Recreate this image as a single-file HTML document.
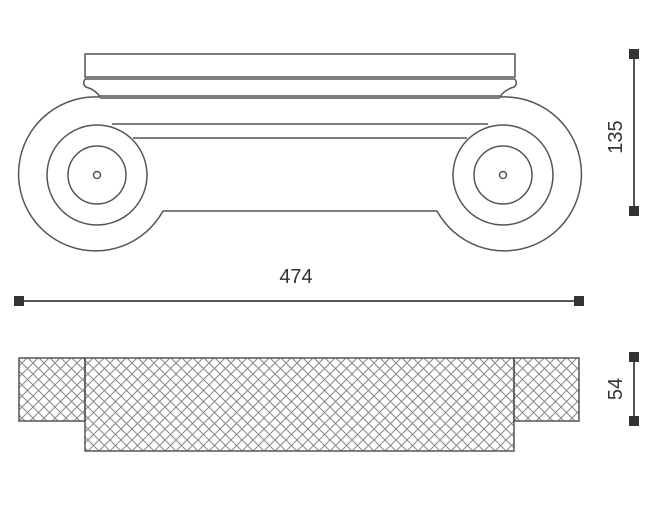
<!DOCTYPE html>
<html><head><meta charset="utf-8"><style>
html,body{margin:0;padding:0;background:#fff;}
svg{display:block;}
text{font-family:"Liberation Sans",sans-serif;fill:#333;font-size:20px;}
</style></head><body>
<svg width="664" height="530" viewBox="0 0 664 530" xmlns="http://www.w3.org/2000/svg">
<defs>
<pattern id="h" width="11" height="11" patternUnits="userSpaceOnUse">
<path d="M0 0L11 11M11 0L0 11" stroke="#888" stroke-width="1"/>
</pattern>
</defs>
<g fill="none" stroke="#555" stroke-width="1.5">
<!-- top slab -->
<rect x="85" y="54" width="430" height="23"/>
<line x1="85" y1="79" x2="515" y2="79"/>
<line x1="100" y1="96" x2="500" y2="96"/>
<line x1="100" y1="98" x2="500" y2="98"/>
<path d="M85 79 Q82 84 86 87 Q96 90 100 97"/>
<path d="M515 79 Q518 84 514 87 Q504 90 500 97"/>
<!-- outer scrolls -->
<path d="M100 97 A77 77 0 1 0 163 211 L437 211 A77 77 0 1 0 500 97"/>
<!-- echinus lines -->
<line x1="112" y1="124" x2="488" y2="124"/>
<line x1="133" y1="138" x2="467" y2="138"/>
<!-- volutes -->
<circle cx="97" cy="175" r="50" fill="#fff"/>
<circle cx="97" cy="175" r="29"/>
<circle cx="97" cy="175" r="3.5"/>
<circle cx="503" cy="175" r="50" fill="#fff"/>
<circle cx="503" cy="175" r="29"/>
<circle cx="503" cy="175" r="3.5"/>
</g>
<!-- hatched section -->
<g stroke="#555" stroke-width="1.5" fill="url(#h)">
<rect x="19" y="358" width="66" height="63"/>
<rect x="514" y="358" width="65" height="63"/>
<rect x="85" y="358" width="429" height="93"/>
</g>
<!-- dimensions -->
<g stroke="#555" stroke-width="2">
<line x1="19" y1="301" x2="579" y2="301"/>
<line x1="634" y1="54" x2="634" y2="211"/>
<line x1="634" y1="357" x2="634" y2="421"/>
</g>
<g fill="#333">
<rect x="14" y="296" width="10" height="10"/>
<rect x="574" y="296" width="10" height="10"/>
<rect x="629" y="49" width="10" height="10"/>
<rect x="629" y="206" width="10" height="10"/>
<rect x="629" y="352" width="10" height="10"/>
<rect x="629" y="416" width="10" height="10"/>
</g>
<text x="296" y="283" text-anchor="middle">474</text>
<text transform="translate(622,137) rotate(-90)" text-anchor="middle">135</text>
<text transform="translate(622,389) rotate(-90)" text-anchor="middle">54</text>
</svg>
</body></html>
